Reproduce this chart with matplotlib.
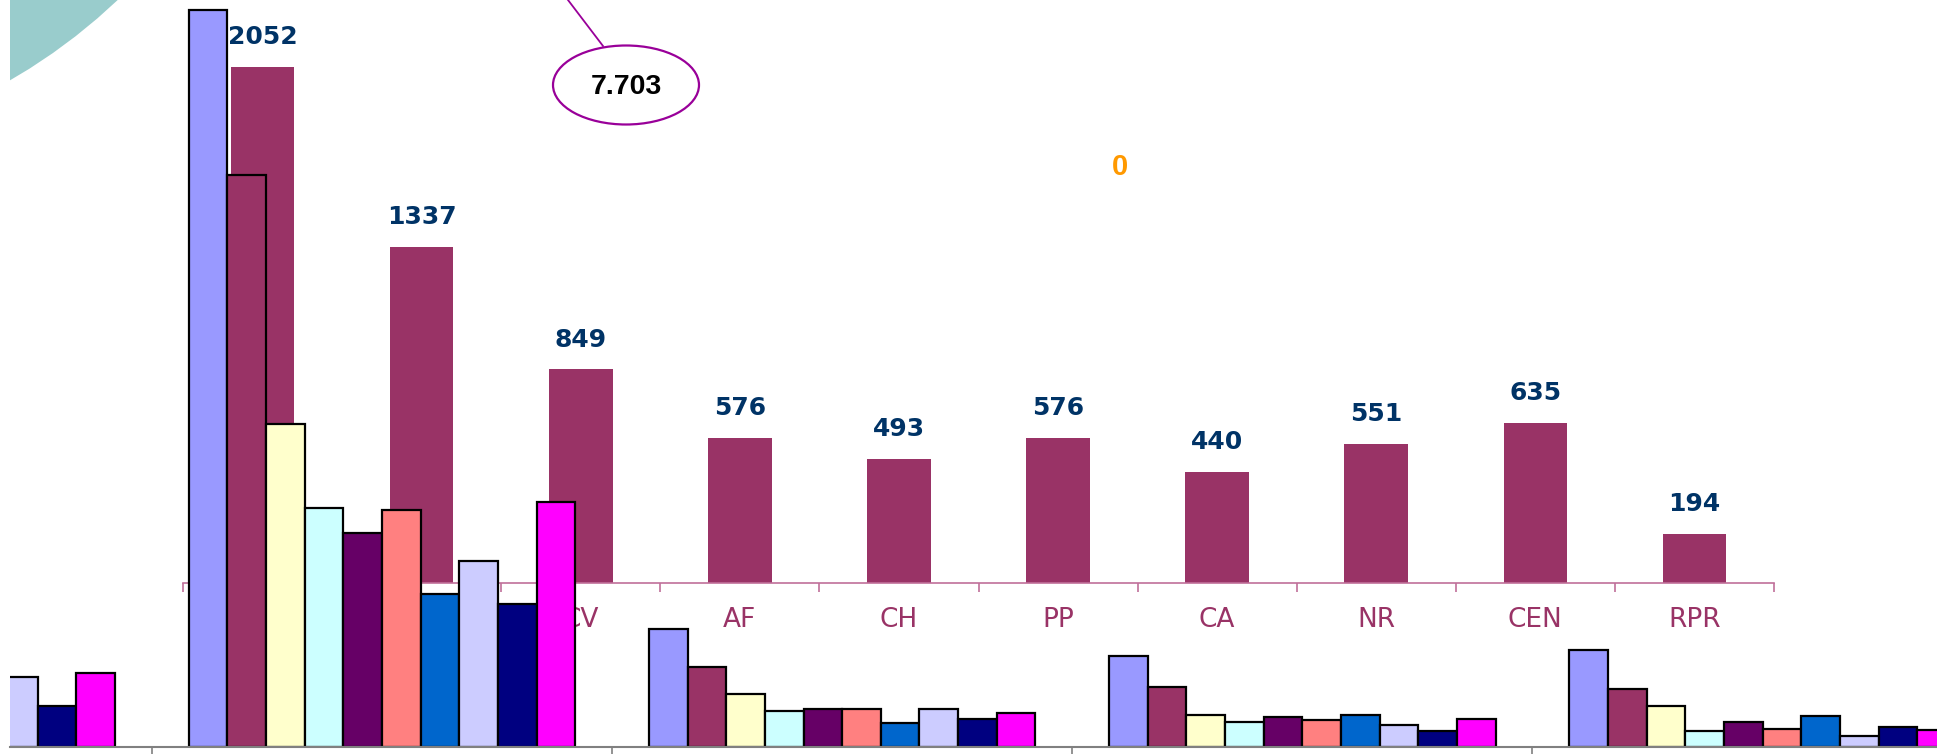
import matplotlib.pyplot as plt
from matplotlib.patches import Circle, Ellipse
import numpy as np

W, H = 1937, 754
DPI = 100

# --- top chart: one series by category
top_cats = ["PS", "PC", "CV", "AF", "CH", "PP", "CA", "NR", "CEN", "RPR"]
top_vals = [2052, 1337, 849, 576, 493, 576, 440, 551, 635, 194]

# --- bottom chart: 10 series over 5 groups (no axis values shown)
bot_groups = [0, 1, 2, 3, 4]
s_lavender = [150, 737, 118, 91, 97]
s_maroon = [100, 572, 80, 60, 58]
s_yellow = [70, 323, 53, 32, 41]
s_cyan = [50, 239, 36, 25, 16]
s_purple = [55, 214, 38, 30, 25]
s_salmon = [60, 237, 38, 27, 18]
s_blue = [45, 153, 24, 32, 31]
s_lilac = [70, 186, 38, 22, 11]
s_navy = [41, 143, 28, 16, 20]
s_magenta = [74, 245, 34, 28, 17]
bot_series = [s_lavender, s_maroon, s_yellow, s_cyan, s_purple,
              s_salmon, s_blue, s_lilac, s_navy, s_magenta]
bot_colors = ["#9999FF", "#993366", "#FFFFCC", "#CCFFFF", "#660066",
              "#FF8080", "#0066CC", "#CCCCFF", "#000080", "#FF00FF"]

callout_text = "7.703"
stray_text = "0"

plt.rcParams['font.family'] = ['DejaVu Sans']

fig = plt.figure(figsize=(W / DPI, H / DPI), dpi=DPI)
fig.patch.set_facecolor("white")

# top chart
ax1 = fig.add_axes([183 / W, (H - 583) / H, (1774 - 183) / W, 583 / H])
ax1.patch.set_alpha(0)
x = np.arange(len(top_cats))
ax1.bar(x, top_vals, width=0.40, color="#993366")
ax1.set_xlim(-0.5, len(top_cats) - 0.5)
ax1.set_ylim(0, 2317)
for sp in ["top", "left", "right"]:
    ax1.spines[sp].set_visible(False)
ax1.spines["bottom"].set_color("#c07099")
ax1.spines["bottom"].set_linewidth(1.2)
ax1.set_yticks([])
ax1.set_xticks(np.arange(-0.5, len(top_cats), 1))
ax1.set_xticklabels([])
ax1.tick_params(axis="x", which="major", length=6.5, color="#c07099", width=1.2)
ax1.set_xticks(x, minor=True)
ax1.set_xticklabels(top_cats, minor=True)
ax1.tick_params(axis="x", which="minor", length=0, pad=17, labelsize=19,
                labelcolor="#993366")
for i, v in enumerate(top_vals):
    ax1.annotate(str(v), (i, v), xytext=(0, 21.5), textcoords="offset points",
                 ha="center", va="center", fontsize=18, fontweight="bold",
                 color="#003366")

# bottom grouped chart, drawn over the top one
ax2 = fig.add_axes([10 / W, 7 / H, (W - 10) / W, 747 / H])
ax2.patch.set_alpha(0)
bw = 0.084
n = len(bot_series)
for s, (vals, col) in enumerate(zip(bot_series, bot_colors)):
    xs = np.array(bot_groups) + (s - (n - 1) / 2) * bw
    ax2.bar(xs, vals, width=bw, color=col, edgecolor="black", linewidth=1.6)
ax2.set_xlim(0.1917, 4.379)
ax2.set_ylim(0, 747)
for sp in ["top", "left", "right"]:
    ax2.spines[sp].set_visible(False)
ax2.spines["bottom"].set_color("#808080")
ax2.spines["bottom"].set_linewidth(1.5)
ax2.set_yticks([])
ax2.set_xticks(np.array(bot_groups[:-1]) + 0.5)
ax2.set_xticklabels([])
ax2.tick_params(axis="x", length=6, color="#808080", width=1.2)

# overlay: teal disc and callout
ax3 = fig.add_axes([10 / W, 0, (W - 10) / W, 1])
ax3.set_xlim(10, W)
ax3.set_ylim(H, 0)
ax3.axis("off")
ax3.add_patch(Circle((-276, -415), 572, facecolor="#99CCCC", edgecolor="none"))
ax3.plot([568, 603], [0, 46], color="#990099", lw=1.3)
ax3.add_patch(Ellipse((626, 85), 146, 79, facecolor="white",
                      edgecolor="#990099", lw=1.6))
ax3.text(626, 87, callout_text, ha="center", va="center", fontsize=20.5,
         fontweight="bold", color="black",
         family=["Liberation Sans Narrow", "Liberation Sans", "DejaVu Sans"])
ax3.text(1120, 167, stray_text, ha="center", va="center", fontsize=21,
         fontweight="bold", color="#FF9900",
         family=["Liberation Sans", "DejaVu Sans"])

fig.savefig("out.png", dpi=DPI)
